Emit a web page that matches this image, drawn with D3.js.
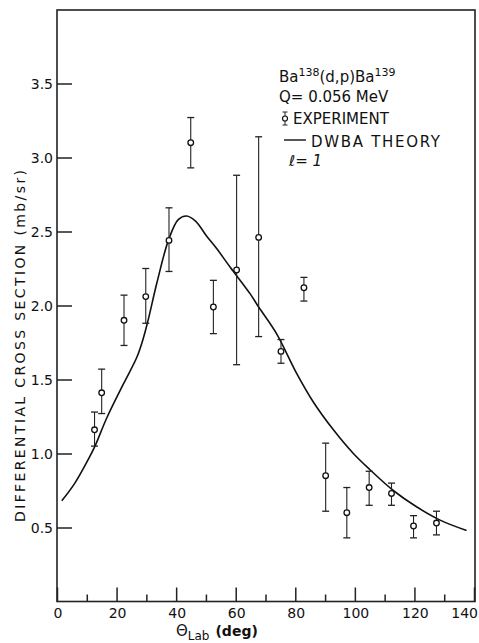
<!DOCTYPE html>
<html>
<head>
<meta charset="utf-8">
<script src="https://cdn.jsdelivr.net/npm/d3@7"></script>
<style>
  body { margin: 0; background: #fff; }
  text { font-family: "DejaVu Sans", sans-serif; fill: #111; }
</style>
</head>
<body>
<div id="chart"></div>
<script>
// experiment points: angle (deg), cross section, error bar low / high
const angles  = [12.6, 15.0, 22.5, 29.8, 37.6, 44.9, 52.5, 60.3, 67.7, 75.2, 82.9, 90.2, 97.3, 104.8, 112.3, 119.7, 127.4];
const values  = [1.16, 1.41, 1.90, 2.06, 2.44, 3.10, 1.99, 2.24, 2.46, 1.69, 2.12, 0.85, 0.60, 0.77, 0.73, 0.51, 0.53];
const errLow  = [1.05, 1.27, 1.73, 1.88, 2.23, 2.93, 1.81, 1.60, 1.79, 1.61, 2.03, 0.61, 0.43, 0.65, 0.65, 0.43, 0.45];
const errHigh = [1.28, 1.57, 2.07, 2.25, 2.66, 3.27, 2.17, 2.88, 3.14, 1.77, 2.19, 1.07, 0.77, 0.88, 0.80, 0.58, 0.61];

// DWBA theory curve, l = 1
const theoryAngle = [1.6, 6.0, 10.5, 12.75, 16.7, 22.3, 26.8, 29.0, 30.7, 33.5, 37.4, 40.7, 43.5, 46.5, 50.2, 53.6, 58.1, 64.8, 67.7, 73.7, 80.5, 86.0, 92.8, 99.5, 105.1, 112.9, 120.7, 128.6, 137.5];
const theoryValue = [0.68, 0.80, 0.96, 1.05, 1.24, 1.47, 1.65, 1.78, 1.91, 2.15, 2.44, 2.58, 2.605, 2.57, 2.47, 2.385, 2.26, 2.08, 1.99, 1.81, 1.54, 1.35, 1.16, 1.00, 0.89, 0.75, 0.64, 0.55, 0.48];

const xTicks = [0, 20, 40, 60, 80, 100, 120, 140];
const xMinorTicks = [10, 30, 50, 70, 90, 110, 130];
const yTicks = [0.5, 1.0, 1.5, 2.0, 2.5, 3.0, 3.5];

const width = 479, height = 643;
const margin = {top: 10, right: 4, bottom: 42, left: 57};

let svg = d3.select("#chart").append("svg")
    .attr("width", width)
    .attr("height", height);

let xScale = d3.scaleLinear()
    .domain([0, 140])
    .range([margin.left, 474]);
let yScale = d3.scaleLinear()
    .domain([0, 4])
    .range([height - margin.bottom + 0.5, margin.top - 0.5]);

// frame
svg.append("rect")
    .attr("x", margin.left)
    .attr("y", margin.top)
    .attr("width", width - margin.right - margin.left)
    .attr("height", yScale(0) - margin.top)
    .attr("fill", "none")
    .attr("stroke", "#222")
    .attr("stroke-width", 1.6);

/* axes: ticks point into the plot */
let xAxis = svg.append("g")
    .attr("transform", "translate(0," + yScale(0) + ")")
    .call(d3.axisTop(xScale).tickValues(xTicks).tickSize(14).tickFormat(""));
xAxis.select(".domain").remove();
svg.append("g")
    .attr("transform", "translate(0," + yScale(0) + ")")
    .call(d3.axisTop(xScale).tickValues(xMinorTicks).tickSize(7).tickFormat(""))
    .select(".domain").remove();
svg.selectAll(".tick line").attr("stroke", "#222").attr("stroke-width", 1.5);

svg.append("g").selectAll("text").data(xTicks).enter().append("text")
    .attr("x", d => d == 140 ? width - 1 : xScale(d) + 1)
    .attr("y", yScale(0) + 16)
    .attr("text-anchor", d => d == 140 ? "end" : "middle")
    .style("font-size", "14px")
    .text(d => d);

let yAxis = svg.append("g")
    .attr("transform", "translate(" + margin.left + ",0)")
    .call(d3.axisRight(yScale).tickValues(yTicks).tickSize(15).tickFormat(""));
yAxis.select(".domain").remove();
yAxis.selectAll(".tick line").attr("stroke", "#222").attr("stroke-width", 1.5);

svg.append("g").selectAll("text").data(yTicks).enter().append("text")
    .attr("x", margin.left - 4)
    .attr("y", d => yScale(d) + 5)
    .attr("text-anchor", "end")
    .style("font-size", "14px")
    .text(d => d3.format(".1f")(d));

// axis titles
svg.append("text")
    .attr("transform", "translate(25,346) rotate(-90)")
    .attr("text-anchor", "middle")
    .attr("textLength", 352)
    .attr("lengthAdjust", "spacing")
    .style("font-size", "14px")
    .text("DIFFERENTIAL CROSS SECTION (mb/sr)");

let xLabel = svg.append("text")
    .attr("x", 176)
    .attr("y", 636)
    .style("font-size", "15px");
xLabel.append("tspan").text("\u0398");
xLabel.append("tspan").attr("dy", 4).style("font-size", "12px").text("Lab");
xLabel.append("tspan").attr("dy", -4).attr("dx", 6).style("font-size", "14px").style("font-weight", "bold").text("(deg)");

// theory curve
let line = d3.line()
    .x(d => xScale(d[0]))
    .y(d => yScale(d[1]))
    .curve(d3.curveCatmullRom.alpha(0.5));
svg.append("path")
    .datum(theoryAngle.map((a, i) => [a, theoryValue[i]]))
    .attr("d", line)
    .attr("fill", "none")
    .attr("stroke", "#111")
    .attr("stroke-width", 1.6);

// experiment points with error bars
let points = angles.map((a, i) => ({angle: a, value: values[i], lo: errLow[i], hi: errHigh[i]}));
let pts = svg.append("g").selectAll("g").data(points).enter().append("g");
pts.append("line")
    .attr("x1", d => xScale(d.angle)).attr("x2", d => xScale(d.angle))
    .attr("y1", d => yScale(d.lo)).attr("y2", d => yScale(d.hi))
    .attr("stroke", "#222").attr("stroke-width", 1.1);
pts.selectAll(".cap").data(d => [[d.angle, d.lo], [d.angle, d.hi]]).enter().append("line")
    .attr("class", "cap")
    .attr("x1", d => xScale(d[0]) - 3.5).attr("x2", d => xScale(d[0]) + 3.5)
    .attr("y1", d => yScale(d[1])).attr("y2", d => yScale(d[1]))
    .attr("stroke", "#222").attr("stroke-width", 1.3);
pts.append("circle")
    .attr("cx", d => xScale(d.angle))
    .attr("cy", d => yScale(d.value))
    .attr("r", 2.8)
    .attr("fill", "#fff")
    .attr("stroke", "#111")
    .attr("stroke-width", 1.3);

// legend
let leg = svg.append("g").style("font-size", "15px");
let t1 = leg.append("text").attr("x", 279).attr("y", 82);
t1.append("tspan").text("Ba");
t1.append("tspan").attr("dy", -6).style("font-size", "11px").text("138");
t1.append("tspan").attr("dy", 6).text("(d,p)Ba");
t1.append("tspan").attr("dy", -6).style("font-size", "11px").text("139");
leg.append("text").attr("x", 279).attr("y", 102).text("Q= 0.056 MeV");

leg.append("line").attr("x1", 285).attr("x2", 285).attr("y1", 112).attr("y2", 125)
    .attr("stroke", "#222").attr("stroke-width", 1);
leg.selectAll(".lcap").data([112, 125]).enter().append("line")
    .attr("class", "lcap")
    .attr("x1", 282.5).attr("x2", 287.5).attr("y1", d => d).attr("y2", d => d)
    .attr("stroke", "#222").attr("stroke-width", 1);
leg.append("circle").attr("cx", 285).attr("cy", 118.5).attr("r", 2.5)
    .attr("fill", "#fff").attr("stroke", "#111").attr("stroke-width", 1.2);
leg.append("text").attr("x", 293).attr("y", 124).text("EXPERIMENT");

leg.append("line").attr("x1", 284).attr("x2", 306).attr("y1", 140).attr("y2", 140)
    .attr("stroke", "#111").attr("stroke-width", 1.4);
leg.append("text").attr("x", 311).attr("y", 147).attr("textLength", 129).attr("lengthAdjust", "spacing")
    .text("DWBA THEORY");
leg.append("text").attr("x", 289).attr("y", 166).style("font-style", "italic")
    .text("\u2113= 1");
</script>
</body>
</html>
